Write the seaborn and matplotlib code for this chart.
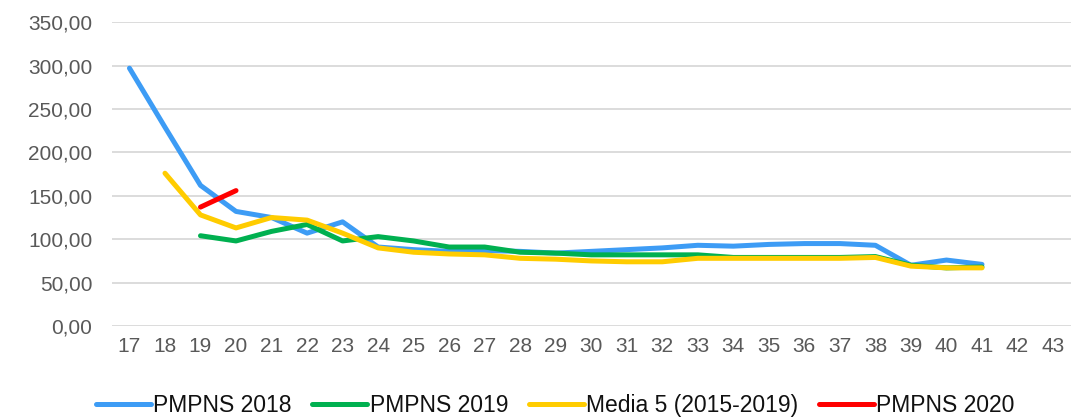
import numpy as np
import pandas as pd
import matplotlib
matplotlib.use("Agg")
import matplotlib.pyplot as plt
import seaborn as sns

# settimane 17..43
weeks = list(range(17, 44))
nan = np.nan

pmpns_2018 = [297, 229, 162, 132, 125, 107, 120, 91, 88, 86, 87, 86, 84, 86, 88, 90, 93, 92, 94, 95, 95, 93, 70, 76, 71, nan, nan]
pmpns_2019 = [nan, nan, 104, 98, 109, 117, 98, 103, 98, 91, 91, 85, 84, 82, 82, 82, 82, 79, 79, 79, 79, 80, 70, 67, 68, nan, nan]
media_5 = [nan, 176, 128, 113, 125, 122, 107, 90, 85, 83, 82, 78, 77, 75, 74, 74, 78, 78, 78, 78, 78, 79, 69, 67, 67, nan, nan]
pmpns_2020 = [nan, nan, 137, 156] + [nan] * 23

series_names = ["PMPNS 2018", "PMPNS 2019", "Media 5 (2015-2019)", "PMPNS 2020"]
series_values = [pmpns_2018, pmpns_2019, media_5, pmpns_2020]
colors = ["#3d9cf5", "#00b050", "#ffcc00", "#ff0000"]

sns.set_theme(style="white")
plt.rcParams['font.family'] = ['Liberation Sans', 'DejaVu Sans']

fig = plt.figure(figsize=(10.74, 4.18), dpi=100)
ax = fig.add_axes([0.104, 0.22, 0.893, 0.727])

for name, vals, col in zip(series_names, series_values, colors):
    df = pd.DataFrame({'week': weeks, 'value': vals})
    sns.lineplot(data=df, x='week', y='value', ax=ax, color=col, linewidth=3.6,
                 label=name, solid_capstyle='round')

ax.set_xlim(16.5, 43.5)
ax.set_ylim(0, 350)
ax.set_xticks(weeks)
ax.set_xticklabels([str(w) for w in weeks])
yt = np.arange(0, 351, 50)
ax.set_yticks(yt)
ax.set_yticklabels([f"{v:.2f}".replace('.', ',') for v in yt])
ax.set_xlabel('')
ax.set_ylabel('')
ax.grid(axis='y', color='#d9d9d9', linewidth=1.3)
ax.set_axisbelow(True)
for s in ax.spines.values():
    s.set_visible(False)
ax.tick_params(axis='both', labelsize=15, colors='#595959', length=0)
ax.tick_params(axis='y', pad=14)
ax.tick_params(axis='x', pad=8)

handles, labels = ax.get_legend_handles_labels()
ax.get_legend().remove()
leg = fig.legend(handles, labels, loc='center', bbox_to_anchor=(0.517, 0.03), ncol=4,
                 frameon=False, handlelength=2.4, handletextpad=0.1, columnspacing=0.9,
                 borderaxespad=0, borderpad=0, fontsize=16.5)
for t in leg.get_texts():
    t.set_color('#111111')

fig.savefig('out.png', dpi=100)
